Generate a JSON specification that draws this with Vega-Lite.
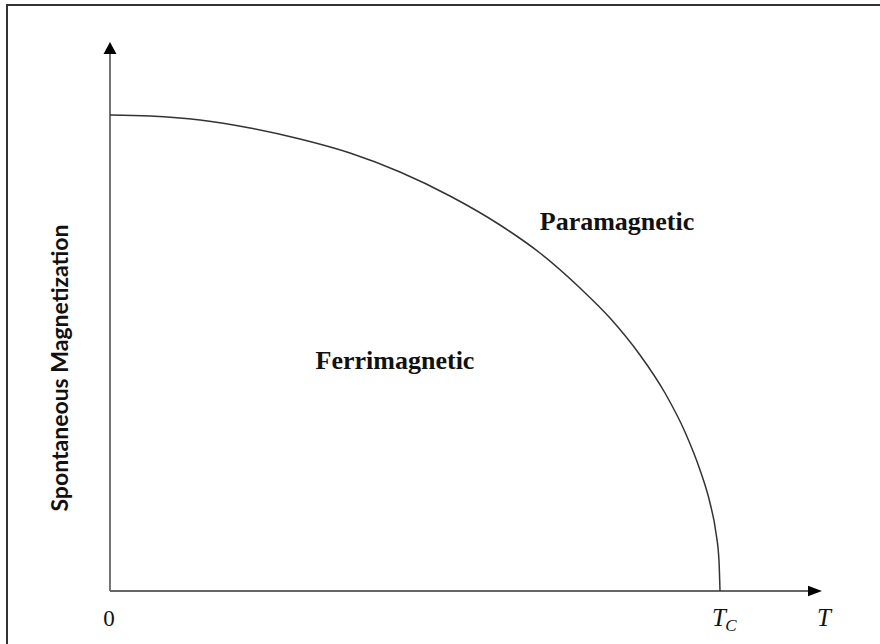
{
  "$schema": "https://vega.github.io/schema/vega-lite/v6.json",
  "width": 712,
  "height": 549,
  "autosize": "none",
  "padding": {"left": 110, "top": 42, "right": 58, "bottom": 53},
  "background": "white",
  "config": {"view": {"stroke": null}},
  "layer": [
    {
      "data": {"values": [{"x": -103, "x2": 800, "y": 586, "y2": -100}]},
      "mark": {"type": "rect", "fill": null, "stroke": "#333", "strokeWidth": 2, "clip": false},
      "encoding": {
        "x": {"field": "x", "type": "quantitative", "scale": {"domain": [0, 712], "nice": false, "zero": false}, "axis": null},
        "x2": {"field": "x2"},
        "y": {"field": "y", "type": "quantitative", "scale": {"domain": [0, 549], "nice": false, "zero": false}, "axis": null},
        "y2": {"field": "y2"}
      }
    },
    {
      "data": {"values": [
        {"x": 0, "y": 0, "x2": 0, "y2": 538},
        {"x": 0, "y": 0, "x2": 700, "y2": 0}
      ]},
      "mark": {"type": "rule", "stroke": "#666", "strokeWidth": 1.8},
      "encoding": {
        "x": {"field": "x", "type": "quantitative"},
        "y": {"field": "y", "type": "quantitative"},
        "x2": {"field": "x2"},
        "y2": {"field": "y2"}
      }
    },
    {
      "data": {"values": [
        {"x": 0, "y": 476}, {"x": 40, "y": 475}, {"x": 90, "y": 471}, {"x": 140, "y": 463},
        {"x": 190, "y": 452}, {"x": 240, "y": 438}, {"x": 290, "y": 419}, {"x": 340, "y": 395},
        {"x": 390, "y": 366}, {"x": 430, "y": 338}, {"x": 470, "y": 303}, {"x": 500, "y": 273},
        {"x": 530, "y": 236}, {"x": 555, "y": 198}, {"x": 575, "y": 159}, {"x": 590, "y": 121},
        {"x": 600, "y": 88}, {"x": 606, "y": 58}, {"x": 609, "y": 30}, {"x": 610, "y": 0}
      ]},
      "mark": {"type": "line", "stroke": "#333", "strokeWidth": 1.5, "interpolate": "monotone"},
      "encoding": {
        "x": {"field": "x", "type": "quantitative"},
        "y": {"field": "y", "type": "quantitative"}
      }
    },
    {
      "data": {"values": [{"x": 0, "y": 543}]},
      "mark": {"type": "point", "shape": "M0,-1L1.08,1L-1.08,1Z", "size": 144, "filled": true, "color": "#000", "opacity": 1},
      "encoding": {
        "x": {"field": "x", "type": "quantitative"},
        "y": {"field": "y", "type": "quantitative"}
      }
    },
    {
      "data": {"values": [{"x": 705, "y": 0}]},
      "mark": {"type": "point", "shape": "M-1,-0.75L1,0L-1,0.75Z", "size": 196, "filled": true, "color": "#000", "opacity": 1},
      "encoding": {
        "x": {"field": "x", "type": "quantitative"},
        "y": {"field": "y", "type": "quantitative"}
      }
    },
    {
      "data": {"values": [
        {"label": "Paramagnetic", "x": 507, "y": 361},
        {"label": "Ferrimagnetic", "x": 285, "y": 222}
      ]},
      "mark": {"type": "text", "font": "Liberation Serif", "fontWeight": "bold", "fontSize": 26, "align": "center", "baseline": "alphabetic", "color": "#111"},
      "encoding": {
        "x": {"field": "x", "type": "quantitative"},
        "y": {"field": "y", "type": "quantitative"},
        "text": {"field": "label"}
      }
    },
    {
      "data": {"values": [{"label": "0", "x": -1, "y": -35}]},
      "mark": {"type": "text", "font": "Liberation Serif", "fontSize": 23, "align": "center", "baseline": "alphabetic", "color": "#111", "clip": false},
      "encoding": {
        "x": {"field": "x", "type": "quantitative"},
        "y": {"field": "y", "type": "quantitative"},
        "text": {"field": "label"}
      }
    },
    {
      "data": {"values": [
        {"label": "T", "x": 609, "y": -35},
        {"label": "T", "x": 714, "y": -35}
      ]},
      "mark": {"type": "text", "font": "Liberation Serif", "fontStyle": "italic", "fontSize": 25, "align": "center", "baseline": "alphabetic", "color": "#111"},
      "encoding": {
        "x": {"field": "x", "type": "quantitative"},
        "y": {"field": "y", "type": "quantitative"},
        "text": {"field": "label"}
      }
    },
    {
      "data": {"values": [{"label": "C", "x": 621, "y": -40}]},
      "mark": {"type": "text", "font": "Liberation Serif", "fontStyle": "italic", "fontSize": 17, "align": "center", "baseline": "alphabetic", "color": "#111"},
      "encoding": {
        "x": {"field": "x", "type": "quantitative"},
        "y": {"field": "y", "type": "quantitative"},
        "text": {"field": "label"}
      }
    },
    {
      "data": {"values": [{"label": "Spontaneous Magnetization", "x": -42, "y": 223}]},
      "mark": {"type": "text", "font": "Lato", "fontWeight": "bold", "fontSize": 23, "angle": 270, "align": "center", "baseline": "alphabetic", "color": "#111"},
      "encoding": {
        "x": {"field": "x", "type": "quantitative"},
        "y": {"field": "y", "type": "quantitative"},
        "text": {"field": "label"}
      }
    }
  ]
}
